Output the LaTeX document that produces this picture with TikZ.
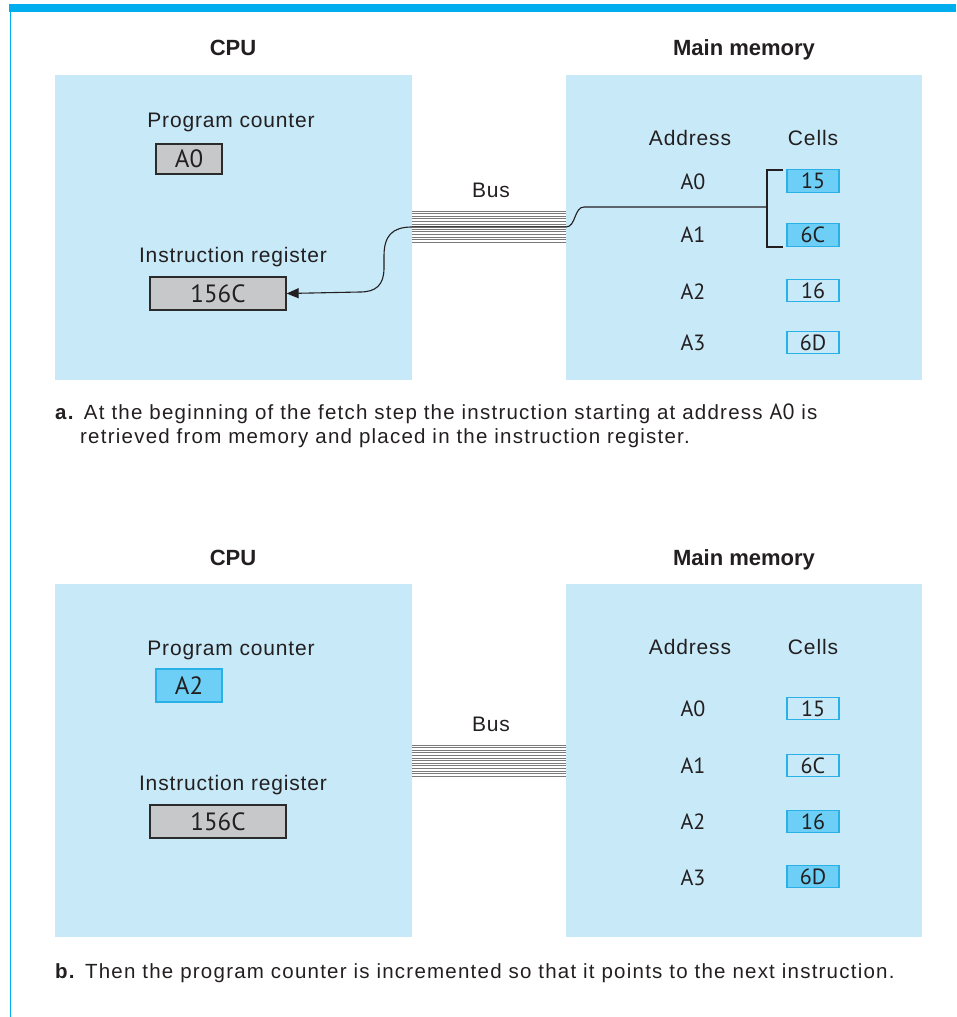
\documentclass[tikz,border=0pt]{standalone}
\usepackage{fontspec}
\setmainfont{PT Sans}
\newfontfamily\hfont{Liberation Sans}[LetterSpace=4]
\newfontfamily\tfont{Liberation Sans}
\newfontfamily\cfont{Liberation Sans}[LetterSpace=6]
\usetikzlibrary{arrows.meta}
\definecolor{panel}{HTML}{C7E9F8}
\definecolor{topbar}{HTML}{00AEEF}
\definecolor{reggray}{HTML}{C7C8CA}
\definecolor{regline}{HTML}{2B2B2B}
\definecolor{cellfill}{HTML}{6DCFF6}
\definecolor{cellline}{HTML}{29B0E6}
\definecolor{busline}{HTML}{7A7A7A}
\definecolor{txt}{HTML}{231F20}
\begin{document}
\begin{tikzpicture}[x=1pt,y=-1pt,
  panelbox/.style={fill=panel, draw=none},
  ttl/.style={font=\tfont\bfseries\fontsize{22}{24}\selectfont, text=txt, inner sep=0, text depth=0pt},
  lbl/.style={font=\hfont\fontsize{21}{22}\selectfont, text=txt, inner sep=0, text depth=0pt},
  addr/.style={font=\fontsize{22}{22}\selectfont, text=txt, inner sep=0},
  reg/.style={draw=regline, fill=reggray, line width=1.3pt, inner sep=0, font=\fontsize{25}{26}\selectfont, text=txt},
  regblue/.style={draw=cellline, fill=cellfill, line width=1.3pt, inner sep=0, font=\fontsize{25}{26}\selectfont, text=txt},
  cell/.style={draw=cellline, fill=panel, line width=1.2pt, inner sep=0, minimum width=52pt, minimum height=22.5pt, font=\fontsize{22}{22}\selectfont, text=txt},
  cellhi/.style={cell, fill=cellfill},
  captxt/.style={font=\cfont\fontsize{20.5}{24}\selectfont, text=txt, inner sep=0, anchor=west},
  busl/.style={draw=busline, line width=0.9pt},
  conn/.style={draw=txt, line width=1.1pt}
]
\useasboundingbox (0,0) rectangle (956,1017);
% frame
\fill[topbar] (9,4) rectangle (956,12);
\draw[topbar, line width=1pt] (10,8) -- (10,1017);

% ================= panel a =================
\node[ttl] (cpuA) at (233,48) {CPU};
\node[ttl] (memA) at (744,48) {Main memory};
\fill[panelbox] (55,75) rectangle (412,380);
\fill[panelbox] (566,75) rectangle (922,380);
\node[lbl] (pcA) at (231,120) {Program counter};
\node[reg, minimum width=66pt, minimum height=30pt] (pcvA) at (189,159) {A0};
\node[lbl] (irA) at (233,255) {Instruction register};
\node[reg, minimum width=136pt, minimum height=33pt] (irvA) at (218,293.5) {156C};
\node[lbl] (busA) at (491,190) {Bus};
\foreach \i in {0,...,12} {\draw[busl] (412,{211+2.6*\i}) -- (566,{211+2.6*\i});}
\node[lbl] (adA) at (690,138) {Address};
\node[lbl] (ceA) at (813,138) {Cells};
\node[addr] (a0A) at (693,182) {A0};
\node[addr] (a1A) at (693,235) {A1};
\node[addr] (a2A) at (693,292) {A2};
\node[addr] (a3A) at (693,343) {A3};
\node[cellhi] (c0A) at (813,181) {15};
\node[cellhi] (c1A) at (813,235) {6C};
\node[cell] (c2A) at (813,290.5) {16};
\node[cell] (c3A) at (813,342.5) {6D};
% bracket and connector
\coordinate (brT) at (783,170);
\coordinate (brB) at (783,247);
\coordinate (brM) at (767,207);
\draw[conn] (brT) -- (767,170) -- (767,247) -- (brB);
\draw[conn, -{Triangle[length=12pt,width=10pt]}] (brM) -- (584,207)
  .. controls (574,207) and (576,227) .. (566,227) -- (412,227)
  .. controls (392,227) and (384,236) .. (384,256) -- (384,268)
  .. controls (384,285) and (376,292) .. (360,292) -- (irvA.east);
\node[captxt] (capA1) at (55,414) {\textbf{a.} At the beginning of the fetch step the instruction starting at address {\rmfamily\fontsize{22}{24}\selectfont A0} is};
\node[captxt] (capA2) at (80,438) {retrieved from memory and placed in the instruction register.};

% ================= panel b =================
\node[ttl] (cpuB) at (233,558) {CPU};
\node[ttl] (memB) at (744,558) {Main memory};
\fill[panelbox] (55,584) rectangle (412,937);
\fill[panelbox] (566,584) rectangle (922,937);
\node[lbl] (pcB) at (231,648) {Program counter};
\node[regblue, minimum width=66pt, minimum height=33pt] (pcvB) at (189,685.5) {A2};
\node[lbl] (irB) at (233,783) {Instruction register};
\node[reg, minimum width=136pt, minimum height=33pt] (irvB) at (218,821.5) {156C};
\node[lbl] (busB) at (491,724) {Bus};
\foreach \i in {0,...,12} {\draw[busl] (412,{745+2.6*\i}) -- (566,{745+2.6*\i});}
\node[lbl] (adB) at (690,647) {Address};
\node[lbl] (ceB) at (813,647) {Cells};
\node[addr] (a0B) at (693,709) {A0};
\node[addr] (a1B) at (693,766) {A1};
\node[addr] (a2B) at (693,822) {A2};
\node[addr] (a3B) at (693,878) {A3};
\node[cell] (c0B) at (813,708.5) {15};
\node[cell] (c1B) at (813,765.5) {6C};
\node[cellhi] (c2B) at (813,821.5) {16};
\node[cellhi] (c3B) at (813,876.5) {6D};
\node[captxt] (capB) at (55,973) {\textbf{b.} Then the program counter is incremented so that it points to the next instruction.};
\end{tikzpicture}
\end{document}
